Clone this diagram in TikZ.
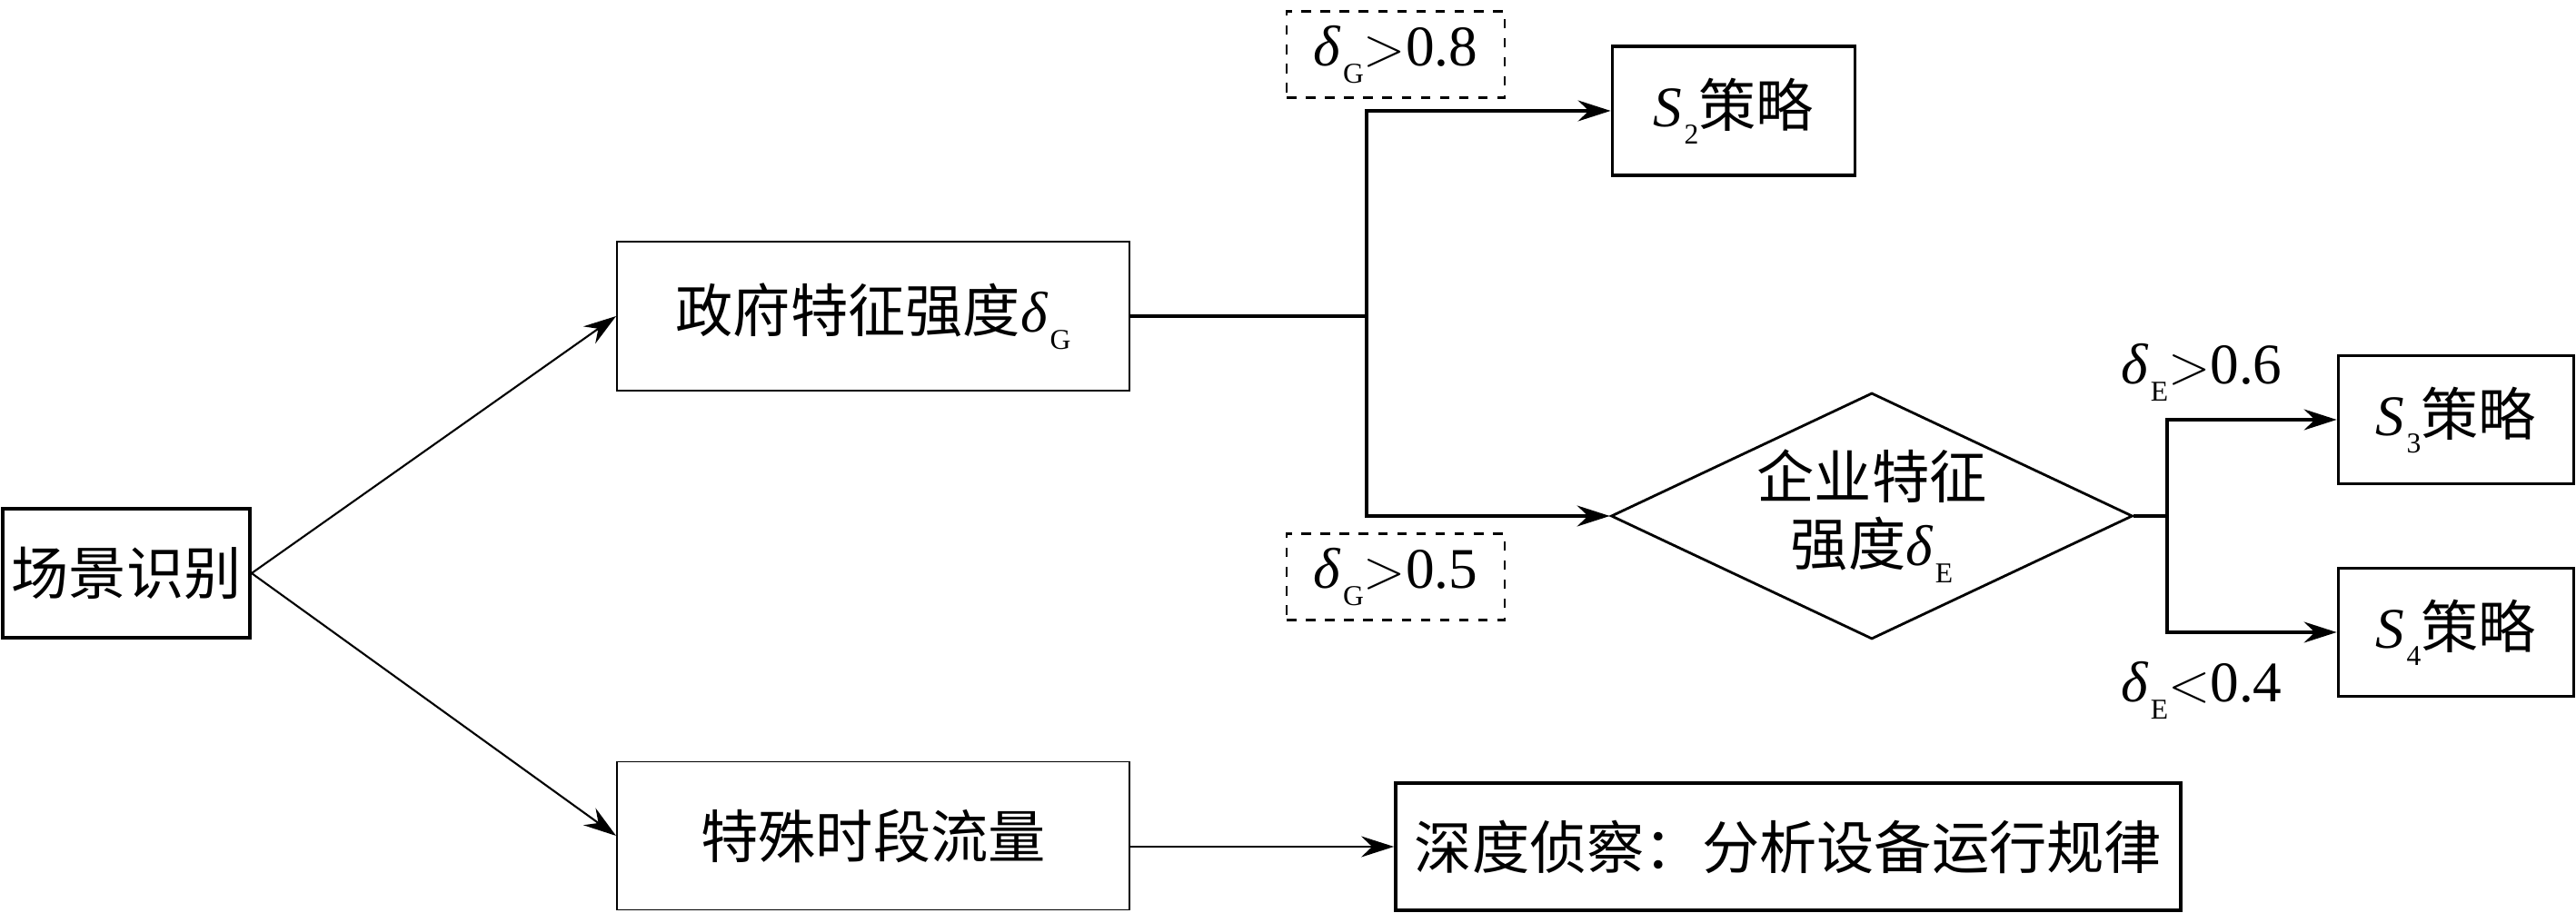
\documentclass[tikz,border=0pt]{standalone}
\usepackage{fontspec}
\setmainfont{Liberation Serif}
\newfontfamily\cjk{Noto Sans CJK SC}
\usetikzlibrary{arrows.meta,shapes.geometric}
\newcommand{\lowsub}[1]{\kern0.6pt\raisebox{-0.19cm}{\fontsize{9}{9}\selectfont #1}}
\newcommand{\dltG}{\textit{δ}\lowsub{G}}
\newcommand{\dltE}{\textit{δ}\lowsub{E}}

\begin{document}
\begin{tikzpicture}[>={Stealth[length=3.6mm,width=2.3mm,inset=1.2mm]},
    every node/.style={font=\fontsize{18}{21}\selectfont, inner sep=0pt},
    thinbox/.style={rectangle, draw, line width=0.55pt, minimum width=5.64cm, minimum height=1.64cm},
    thickbox/.style={rectangle, draw, line width=1.1pt, minimum height=1.41cm},
    condition/.style={rectangle, draw, dashed, line width=0.7pt, minimum width=2.4cm, minimum height=0.95cm},
    decision/.style={diamond, draw, line width=0.8pt, aspect=2.12, minimum width=5.74cm, minimum height=2.71cm, align=center},
    branch/.style={line width=0.9pt},
    link/.style={line width=0.6pt}]
   \useasboundingbox (0,0) rectangle (28.35,10.05);
   \node[thickbox, minimum width=2.72cm, minimum height=1.42cm] (scene) at (1.39,3.74) {\cjk 场景识别};
   \node[thinbox] (gov) at (9.61,6.57) {{\cjk 政府特征强度}\dltG};
   \node[thinbox, minimum height=1.63cm] (special) at (9.61,0.85) {\cjk 特殊时段流量};
   \node[thickbox, minimum width=8.64cm, minimum height=1.40cm] (deep) at (19.68,0.73) {\cjk 深度侦察：分析设备运行规律};
   \node[thickbox, minimum width=2.67cm, minimum height=1.42cm] (S2) at (19.08,8.83) {\textit{S}\lowsub{2}{\cjk 策略}};
   \node[condition] (high) at (15.36,9.45) {\dltG$>$0.8};
   \node[condition] (mid) at (15.36,3.70) {\dltG$>$0.5};
   \node[decision] (ent) at (20.60,4.37) {\cjk 企业特征\\{\cjk 强度}\dltE};
   \node[thickbox, minimum width=2.59cm] (S3) at (27.03,5.43) {\textit{S}\lowsub{3}{\cjk 策略}};
   \node[thickbox, minimum width=2.59cm] (S4) at (27.03,3.09) {\textit{S}\lowsub{4}{\cjk 策略}};
   \node (up) at (24.23,5.95) {\dltE$>$0.6};
   \node (down) at (24.23,2.45) {\dltE$<$0.4};
   \coordinate (fork) at (15.04,6.57);
   \coordinate (join) at (23.85,4.37);
   \draw[link,->] (scene.east) -- (gov.west);
   \draw[link,->] (scene.east) -- (special.west);
   \draw[branch] (gov) -- (fork);
   \draw[branch,->] (fork) |- (S2);
   \draw[branch,->] (fork) |- (ent);
   \draw[branch] (ent) -- (join);
   \draw[branch,->] (join) |- (S3);
   \draw[branch,->] (join) |- (S4);
   \draw[link,->] (special.east |- deep.west) -- (deep.west);
\end{tikzpicture}
\end{document}
